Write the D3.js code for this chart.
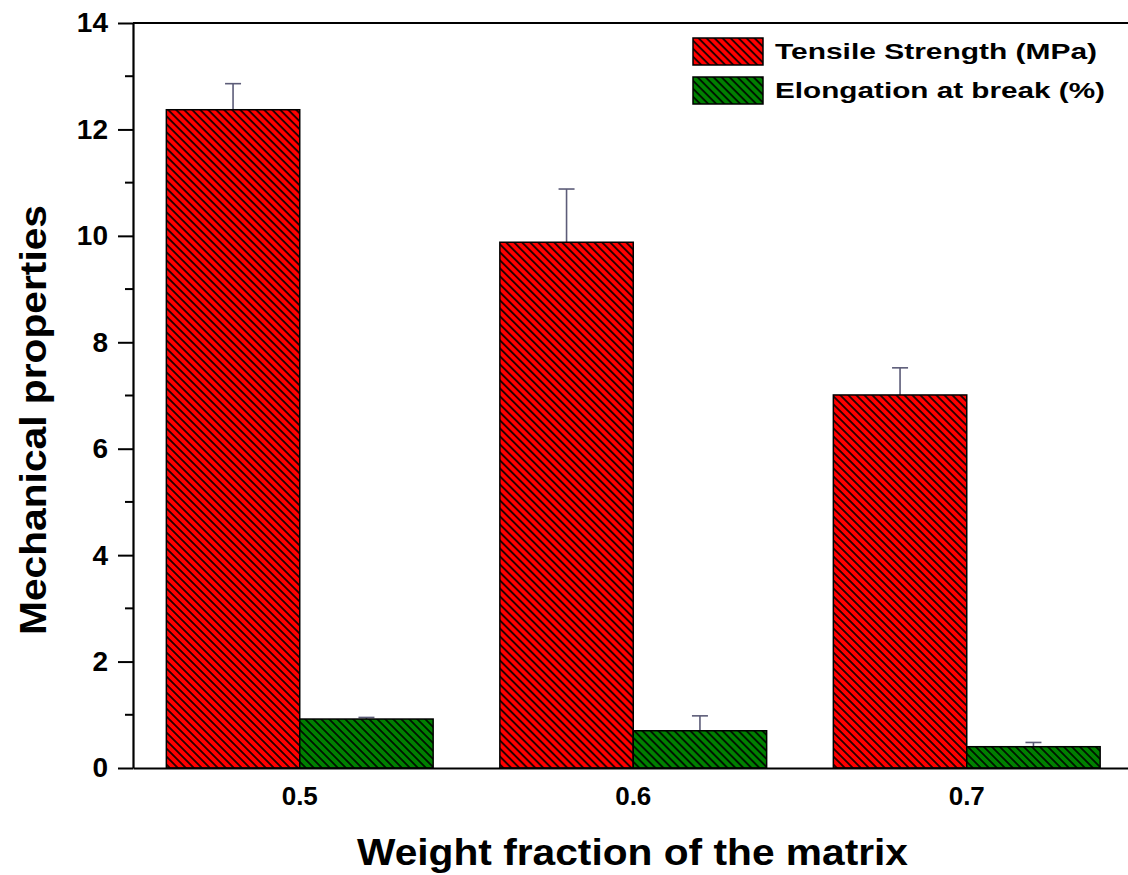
<!DOCTYPE html>
<html>
<head>
<meta charset="utf-8">
<script src="https://cdn.jsdelivr.net/npm/d3@7"></script>
<style>
  body { margin: 0; background: #fff; }
  svg { display: block; font-family: "Liberation Sans", Arial, sans-serif; }
</style>
</head>
<body>
<div id="chart"></div>
<script>
// data
var categories = ["0.5", "0.6", "0.7"];
var seriesNames = ["Tensile Strength (MPa)", "Elongation at break (%)"];
var tensile = [12.37, 9.88, 7.01];
var tensileErr = [0.49, 1.0, 0.51];
var elongation = [0.92, 0.70, 0.40];
var elongationErr = [0.03, 0.28, 0.08];
var yTicks = [0, 2, 4, 6, 8, 10, 12, 14];
var yMinor = [1, 3, 5, 7, 9, 11, 13];

var W = 1128, H = 875;
var plotL = 133, plotR = 1133.5, plotT = 23, plotB = 768;
var fills = ["#ff0000", "#008000"];

var svg = d3.select("#chart").append("svg")
    .attr("width", W)
    .attr("height", H);

// hatch patterns
var defs = svg.append("defs");
fills.forEach(function(c, i) {
  var p = defs.append("pattern")
      .attr("id", "hatch" + i)
      .attr("patternUnits", "userSpaceOnUse")
      .attr("width", 5.66)
      .attr("height", 5.66)
      .attr("patternTransform", "rotate(45)");
  p.append("rect").attr("width", 5.66).attr("height", 5.66).attr("fill", c);
  p.append("line")
      .attr("x1", 0).attr("x2", 5.66)
      .attr("y1", 2.83).attr("y2", 2.83)
      .attr("stroke", "#000").attr("stroke-width", 1.6);
});

var x0 = d3.scaleBand()
    .domain(categories)
    .range([plotL, plotR])
    .paddingInner(0.2)
    .paddingOuter(0.1);

var x1 = d3.scaleBand()
    .domain([0, 1])
    .range([0, x0.bandwidth()]);

var y = d3.scaleLinear()
    .domain([0, 14])
    .range([plotB, plotT]);

var rows = categories.map(function(c, i) {
  return { cat: c, vals: [
    { s: 0, v: tensile[i], e: tensileErr[i] },
    { s: 1, v: elongation[i], e: elongationErr[i] }
  ]};
});

var groups = svg.selectAll(".grp")
    .data(rows)
  .enter().append("g")
    .attr("class", "grp")
    .attr("transform", function(d) { return "translate(" + x0(d.cat) + ",0)"; });

// error bars (upper only)
var eb = groups.selectAll(".err")
    .data(function(d) { return d.vals; })
  .enter().append("g")
    .attr("class", "err")
    .attr("stroke", "#5c5c78")
    .attr("stroke-width", 1.6);
eb.append("line")
    .attr("x1", function(d) { return x1(d.s) + x1.bandwidth() / 2; })
    .attr("x2", function(d) { return x1(d.s) + x1.bandwidth() / 2; })
    .attr("y1", function(d) { return y(d.v); })
    .attr("y2", function(d) { return y(d.v + d.e); });
eb.append("line")
    .attr("x1", function(d) { return x1(d.s) + x1.bandwidth() / 2 - 8; })
    .attr("x2", function(d) { return x1(d.s) + x1.bandwidth() / 2 + 8; })
    .attr("y1", function(d) { return y(d.v + d.e); })
    .attr("y2", function(d) { return y(d.v + d.e); });

groups.selectAll("rect")
    .data(function(d) { return d.vals; })
  .enter().append("rect")
    .attr("x", function(d) { return x1(d.s); })
    .attr("width", x1.bandwidth())
    .attr("y", function(d) { return y(d.v); })
    .attr("height", function(d) { return y(0) - y(d.v); })
    .attr("fill", function(d) { return "url(#hatch" + d.s + ")"; })
    .attr("stroke", "#000")
    .attr("stroke-width", 1.5);

// y axis
var yAxis = svg.append("g")
    .attr("transform", "translate(" + plotL + ",0)")
    .call(d3.axisLeft(y).tickValues(yTicks).tickSize(15).tickPadding(10).tickSizeOuter(0));
yAxis.select(".domain").attr("stroke-width", 2.2);
yAxis.selectAll(".tick line").attr("stroke-width", 2);
yAxis.selectAll(".tick text")
    .attr("font-size", 28)
    .attr("font-weight", "bold")
    .attr("font-family", "Liberation Sans, Arial, sans-serif")
    .attr("fill", "#000");

svg.append("g")
    .attr("transform", "translate(" + plotL + ",0)")
    .selectAll("line")
    .data(yMinor)
  .enter().append("line")
    .attr("x1", -8).attr("x2", 0)
    .attr("y1", function(d) { return y(d); })
    .attr("y2", function(d) { return y(d); })
    .attr("stroke", "#000").attr("stroke-width", 2);

// top frame line
svg.append("line")
    .attr("x1", plotL).attr("x2", plotR)
    .attr("y1", y(14)).attr("y2", y(14))
    .attr("stroke", "#000").attr("stroke-width", 2.2);

// x axis
var xAxis = svg.append("g")
    .attr("transform", "translate(0," + plotB + ")")
    .call(d3.axisBottom(x0).tickSize(0).tickPadding(19).tickSizeOuter(0));
xAxis.select(".domain").attr("stroke-width", 2.2);
xAxis.selectAll(".tick text")
    .attr("font-size", 26)
    .attr("font-weight", "bold")
    .attr("font-family", "Liberation Sans, Arial, sans-serif")
    .attr("fill", "#000");

// axis titles
svg.append("text")
    .attr("transform", "translate(46," + 420 + ") rotate(-90)")
    .attr("text-anchor", "middle")
    .attr("font-size", 36)
    .attr("font-weight", "bold")
    .attr("textLength", 430)
    .attr("lengthAdjust", "spacingAndGlyphs")
    .text("Mechanical properties");

svg.append("text")
    .attr("x", 632.5)
    .attr("y", 865)
    .attr("text-anchor", "middle")
    .attr("font-size", 36)
    .attr("font-weight", "bold")
    .attr("textLength", 551)
    .attr("lengthAdjust", "spacingAndGlyphs")
    .text("Weight fraction of the matrix");

// legend
var legend = svg.append("g");
var legLens = [322, 330];
seriesNames.forEach(function(name, i) {
  var ly = 38 + i * 39;
  legend.append("rect")
      .attr("x", 693).attr("y", ly)
      .attr("width", 70).attr("height", 27)
      .attr("fill", "url(#hatch" + i + ")")
      .attr("stroke", "#000").attr("stroke-width", 1.5);
  legend.append("text")
      .attr("x", 775).attr("y", ly + 21)
      .attr("font-size", 22)
      .attr("font-weight", "bold")
      .attr("textLength", legLens[i])
      .attr("lengthAdjust", "spacingAndGlyphs")
      .text(name);
});
</script>
</body>
</html>
